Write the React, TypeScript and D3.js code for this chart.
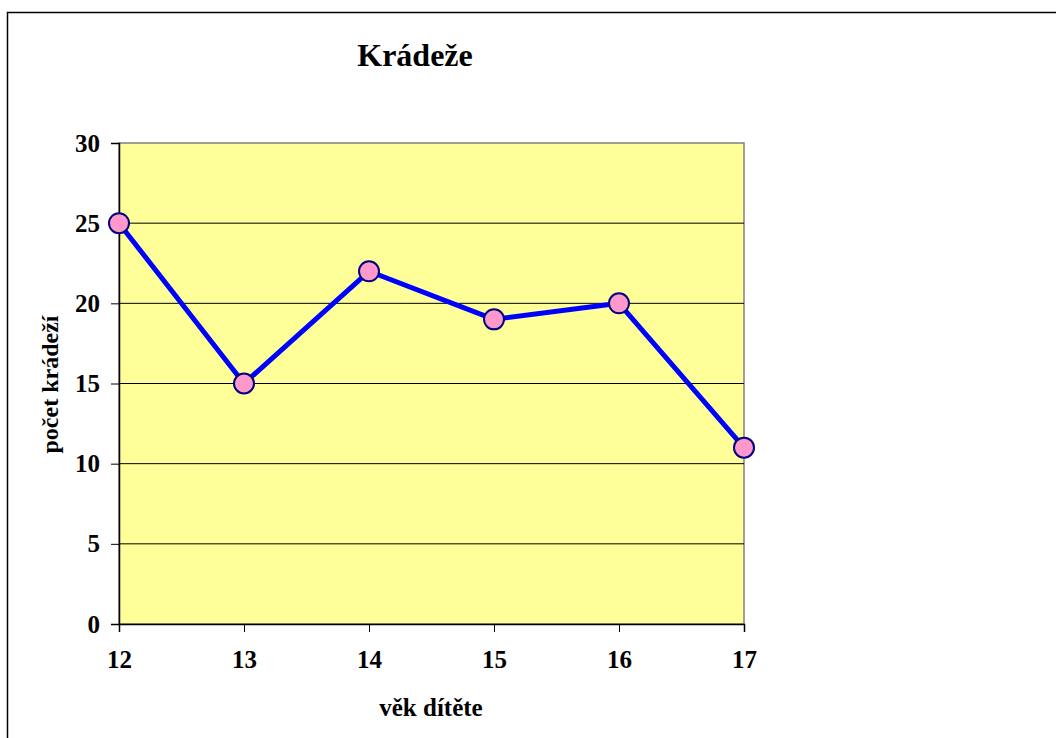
import React, { useEffect, useRef } from 'react';
import * as d3 from 'd3';

const ages = ['12', '13', '14', '15', '16', '17'];
const theftCounts = [25, 15, 22, 19, 20, 11];
const yTicks = [0, 5, 10, 15, 20, 25, 30];

const App = () => {
  const ref = useRef<SVGSVGElement>(null);

  useEffect(() => {
    const svg = d3.select(ref.current);
    svg.selectAll('*').remove();

    const width = 1056;
    const height = 738;
    const plot = { left: 119, right: 744, top: 143, bottom: 624 };
    const font = '"Liberation Serif", "Times New Roman", serif';

    // outer chart frame
    svg.append('rect')
      .attr('x', 7.5).attr('y', 12.5)
      .attr('width', width + 10).attr('height', height + 10)
      .attr('fill', 'white').attr('stroke', 'black').attr('stroke-width', 1.5);

    const x = d3.scalePoint<string>().domain(ages).range([plot.left, plot.right]);
    const y = d3.scaleLinear().domain([0, 30]).range([plot.bottom, plot.top]);

    // plot area
    svg.append('rect')
      .attr('x', plot.left).attr('y', plot.top)
      .attr('width', plot.right - plot.left).attr('height', plot.bottom - plot.top)
      .attr('fill', '#FFFF99').attr('stroke', '#808080').attr('stroke-width', 1.5);

    // gridlines
    svg.append('g')
      .selectAll('line')
      .data(yTicks.filter(t => t > 0 && t < 30))
      .join('line')
      .attr('x1', plot.left).attr('x2', plot.right)
      .attr('y1', d => y(d)).attr('y2', d => y(d))
      .attr('stroke', 'black').attr('stroke-width', 1);

    // y axis
    const yAxis = svg.append('g')
      .attr('transform', `translate(${plot.left},0)`)
      .call(d3.axisLeft(y).tickValues(yTicks).tickSize(8).tickPadding(11));
    yAxis.select('.domain').attr('stroke', 'black').attr('stroke-width', 1.5);
    yAxis.selectAll('text')
      .attr('font-family', font).attr('font-size', 25).attr('font-weight', 'bold').attr('fill', 'black');

    // x axis
    const xAxis = svg.append('g')
      .attr('transform', `translate(0,${plot.bottom})`)
      .call(d3.axisBottom(x).tickSize(8));
    xAxis.select('.domain').attr('stroke', 'black').attr('stroke-width', 1.5);
    xAxis.selectAll('text')
      .attr('y', 44).attr('dy', null)
      .attr('font-family', font).attr('font-size', 25).attr('font-weight', 'bold').attr('fill', 'black');

    // line
    const line = d3.line<number>()
      .x((_, i) => x(ages[i]) as number)
      .y(d => y(d));
    svg.append('path')
      .datum(theftCounts)
      .attr('d', line)
      .attr('fill', 'none').attr('stroke', '#0000FF').attr('stroke-width', 5)
      .attr('stroke-linejoin', 'round');

    // markers
    svg.append('g')
      .selectAll('circle')
      .data(theftCounts)
      .join('circle')
      .attr('cx', (_, i) => x(ages[i]) as number)
      .attr('cy', d => y(d))
      .attr('r', 10)
      .attr('fill', '#FF99CC').attr('stroke', '#000080').attr('stroke-width', 2);

    // title
    svg.append('text')
      .attr('x', 415).attr('y', 66)
      .attr('text-anchor', 'middle')
      .attr('font-family', font).attr('font-size', 32).attr('font-weight', 'bold')
      .text('Krádeže');

    // axis titles
    svg.append('text')
      .attr('x', 431).attr('y', 716)
      .attr('text-anchor', 'middle')
      .attr('font-family', font).attr('font-size', 25).attr('font-weight', 'bold')
      .text('věk dítěte');

    svg.append('text')
      .attr('transform', `translate(58,${(plot.top + plot.bottom) / 2 + 1}) rotate(-90)`)
      .attr('text-anchor', 'middle')
      .attr('font-family', font).attr('font-size', 24).attr('font-weight', 'bold')
      .text('počet krádeží');
  }, []);

  return (
    <svg ref={ref} width={1056} height={738}
      style={{ position: 'absolute', left: 0, top: 0, display: 'block' }} />
  );
};

export default App;
